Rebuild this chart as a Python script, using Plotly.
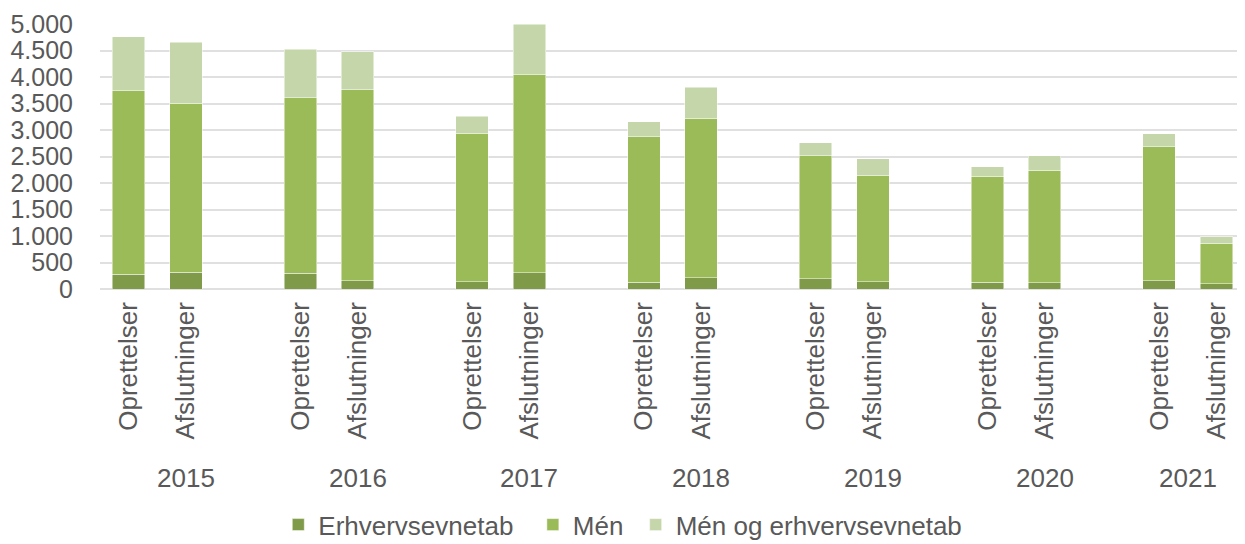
import plotly.graph_objects as go

years = ["2015", "2016", "2017", "2018", "2019", "2020", "2021"]
types = ["Oprettelser", "Afslutninger"]

# values per year: [Oprettelser, Afslutninger]
erhvervsevnetab = [[283, 315], [296, 157], [138, 308], [132, 214], [195, 138], [132, 119], [157, 101]]
men = [[3459, 3194], [3308, 3598], [2799, 3730], [2742, 3012], [2321, 2013], [2000, 2126], [2529, 767]]
men_og_erhverv = [[1013, 1151], [918, 717], [321, 962], [283, 585], [245, 308], [176, 271], [245, 119]]

series_names = ["Erhvervsevnetab", "Mén", "Mén og erhvervsevnetab"]
series_values = [erhvervsevnetab, men, men_og_erhverv]
colors = ["#7F9A48", "#9BBB59", "#C6D6AB"]
legend_pad = ["\u00a0\u00a0", "\u00a0", ""]

FS = 26
TXT = "#595959"

# build category slots: two bars per year plus a blank slot between years
cats = []
tickvals = []
ticktext = []
for i, yr in enumerate(years):
    for t in types:
        c = f"{yr}|{t}"
        cats.append(c)
        tickvals.append(c)
        ticktext.append(t)
    if i < len(years) - 1:
        cats.append(" " * (i + 1))

fig = go.Figure()
for name, vals, col, pad in zip(series_names, series_values, colors, legend_pad):
    ys = []
    for i, yr in enumerate(years):
        ys.extend(vals[i])
        if i < len(years) - 1:
            ys.append(None)
    fig.add_trace(go.Bar(
        x=cats, y=ys, name=name + pad,
        marker=dict(color=col, line=dict(color="rgba(255,255,255,0.6)", width=0.8)),
    ))

# year labels centred under each group
for i, yr in enumerate(years):
    idx = cats.index(f"{yr}|Oprettelser")
    center = idx + 1 if i < len(years) - 1 else idx + 0.5
    fig.add_annotation(
        x=center, y=-0.713, xref="x", yref="paper", text=yr,
        showarrow=False, xanchor="center", yanchor="middle",
        font=dict(size=FS, color=TXT),
    )

font_family = "Liberation Sans, Arial, sans-serif"
fig.update_layout(
    barmode="stack",
    bargap=0.43,
    width=1237, height=536,
    margin=dict(l=92, r=0, t=16, b=255, autoexpand=False),
    plot_bgcolor="white", paper_bgcolor="white",
    separators=",.",
    font=dict(family=font_family, size=FS, color=TXT),
    showlegend=True,
    legend=dict(
        orientation="h", x=0.497, xanchor="center", xref="container",
        y=0.036, yanchor="middle", yref="container",
        font=dict(size=FS, color=TXT), itemwidth=30, traceorder="normal",
    ),
    xaxis=dict(
        type="category", categoryorder="array", categoryarray=cats,
        range=[-0.5, len(cats) - 0.5],
        tickmode="array", tickvals=tickvals, ticktext=ticktext,
        tickangle=-90, ticks="", showgrid=False, showline=False,
        tickfont=dict(size=FS, color=TXT),
        ticklabelstandoff=7, automargin=False,
    ),
    yaxis=dict(
        range=[0, 5000], dtick=500, tickformat=",d",
        showgrid=True, gridcolor="#E0E0E0", gridwidth=1.5,
        zeroline=True, zerolinecolor="#E0E0E0", zerolinewidth=1.5,
        ticks="", showline=False,
        tickfont=dict(size=25, color=TXT),
        ticklabelstandoff=26, automargin=False,
    ),
)

fig.write_html("out.html")
